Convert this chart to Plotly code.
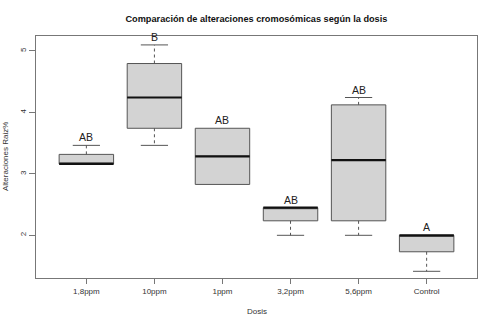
import plotly.graph_objects as go

# Dosis groups and box-plot statistics (square root of % alterations)
dosis = ["1,8ppm", "10ppm", "1ppm", "3,2ppm", "5,6ppm", "Control"]
lower_whisker = [3.162, 3.464, 2.828, 2.000, 2.000, 1.414]
q1 = [3.162, 3.742, 2.828, 2.236, 2.236, 1.732]
median = [3.162, 4.243, 3.286, 2.449, 3.225, 2.000]
q3 = [3.317, 4.796, 3.742, 2.449, 4.123, 2.000]
upper_whisker = [3.464, 5.099, 3.742, 2.449, 4.243, 2.000]
letters = ["AB", "B", "AB", "AB", "AB", "A"]

xpos = list(range(1, len(dosis) + 1))
box_half = 0.4
cap_half = 0.2

fig = go.Figure()

# boxes (whiskers drawn separately as dashed lines)
fig.add_trace(go.Box(
    x=xpos, q1=q1, median=median, q3=q3,
    lowerfence=q1, upperfence=q3,
    width=2 * box_half, fillcolor="#d3d3d3",
    line=dict(color="#555555", width=1),
    whiskerwidth=0, boxpoints=False, hoverinfo="skip",
    showlegend=False,
))

for i, x in enumerate(xpos):
    # dashed whiskers
    for a, b in ((q3[i], upper_whisker[i]), (q1[i], lower_whisker[i])):
        if abs(a - b) > 1e-9:
            fig.add_trace(go.Scatter(
                x=[x, x], y=[a, b], mode="lines",
                line=dict(color="#555555", width=1, dash="dot"),
                showlegend=False, hoverinfo="skip"))
            fig.add_trace(go.Scatter(
                x=[x - cap_half, x + cap_half], y=[b, b], mode="lines",
                line=dict(color="#555555", width=1),
                showlegend=False, hoverinfo="skip"))
    # thick median line
    fig.add_trace(go.Scatter(
        x=[x - box_half, x + box_half], y=[median[i], median[i]], mode="lines",
        line=dict(color="#111111", width=2.2),
        showlegend=False, hoverinfo="skip"))
    # significance letters
    fig.add_annotation(
        x=x, y=upper_whisker[i], text=letters[i], showarrow=False,
        yanchor="bottom", yshift=0,
        font=dict(family="Liberation Sans, Arial", size=10.5, color="#222222"))

font_family = "Liberation Sans, Arial"

fig.update_layout(
    width=496, height=325,
    margin=dict(l=36, r=19, t=36, b=47),
    paper_bgcolor="white", plot_bgcolor="white",
    font=dict(family=font_family, size=8, color="#333333"),
    title=dict(
        text="<b>Comparación de alteraciones cromosómicas según la dosis</b>",
        x=0.517, xanchor="center", y=0.942, yanchor="middle",
        font=dict(family=font_family, size=9.2, color="#111111")),
    xaxis=dict(
        range=[0.26, 6.74], tickvals=xpos, ticktext=dosis,
        showgrid=False, zeroline=False,
        showline=True, mirror=True, linecolor="#777777", linewidth=1,
        ticks="outside", ticklen=5, tickcolor="#777777",
        tickfont=dict(size=8, color="#333333"),
    ),
    yaxis=dict(
        range=[1.305, 5.244], tickvals=[2, 3, 4, 5],
        showgrid=False, zeroline=False,
        showline=True, mirror=True, linecolor="#777777", linewidth=1,
        ticks="outside", ticklen=6, tickcolor="#777777",
        tickangle=-90, tickfont=dict(size=8, color="#333333"),
    ),
)

# axis titles
fig.add_annotation(
    xref="paper", yref="paper", x=0.5, y=0, yanchor="top", yshift=-27,
    text="Dosis", showarrow=False, font=dict(size=8, color="#333333"))
fig.add_annotation(
    xref="paper", yref="paper", x=0, y=0.5, xanchor="center", xshift=-31,
    text="Alteraciones Raiz%", textangle=-90, showarrow=False,
    font=dict(size=8, color="#333333"))

fig.write_html("out.html")
